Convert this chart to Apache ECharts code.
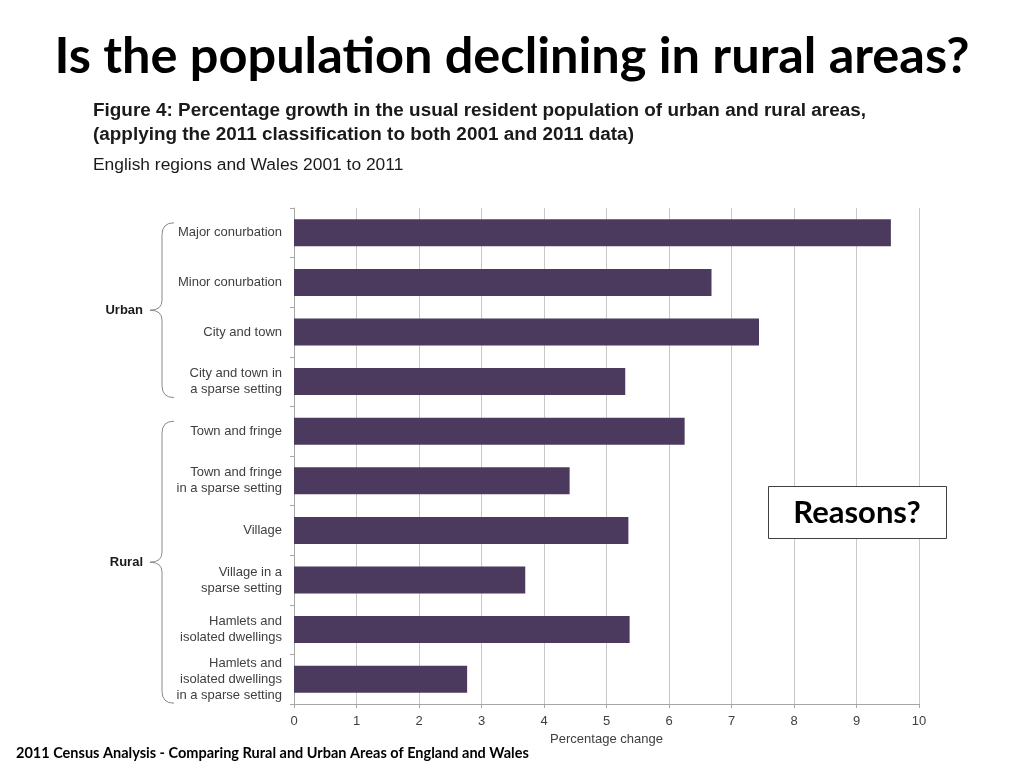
<!DOCTYPE html>
<html><head><meta charset="utf-8">
<script src="https://cdn.jsdelivr.net/npm/echarts@6/dist/echarts.min.js"></script>
<style>html,body{margin:0;padding:0;background:#fff}#c{width:1024px;height:768px}</style>
</head><body><div id="c"></div>
<script>
const categories = [
  'Major conurbation',
  'Minor conurbation',
  'City and town',
  'City and town in\na sparse setting',
  'Town and fringe',
  'Town and fringe\nin a sparse setting',
  'Village',
  'Village in a\nsparse setting',
  'Hamlets and\nisolated dwellings',
  'Hamlets and\nisolated dwellings\nin a sparse setting'
];
const growth = [9.55, 6.68, 7.44, 5.30, 6.25, 4.41, 5.35, 3.70, 5.37, 2.77];
const xTicks = [0,1,2,3,4,5,6,7,8,9,10];
const groups = [
  {name: 'Urban', from: 0, to: 3},
  {name: 'Rural', from: 4, to: 9}
];

const chart = echarts.init(document.getElementById('c'), null, {renderer: 'canvas'});
const option = {
  backgroundColor: '#ffffff',
  animation: false,
  grid: {left: 294, right: 105, top: 208, bottom: 64, containLabel: false},
  xAxis: {
    type: 'value', min: xTicks[0], max: xTicks[xTicks.length-1], interval: 1,
    name: 'Percentage change', nameLocation: 'middle', nameGap: 27,
    nameTextStyle: {fontFamily: 'Liberation Sans', fontSize: 13, color: '#404040'},
    axisLine: {show: true, lineStyle: {color: '#a6a6a6'}},
    axisTick: {show: true, length: 4, lineStyle: {color: '#a6a6a6'}},
    axisLabel: {fontFamily: 'Liberation Sans', fontSize: 13, color: '#404040', margin: 11},
    splitLine: {show: true, lineStyle: {color: '#c8c8c8', width: 1}}
  },
  yAxis: {
    type: 'category', data: categories, inverse: true,
    axisLine: {show: true, lineStyle: {color: '#a6a6a6'}},
    axisTick: {show: true, length: 4, lineStyle: {color: '#a6a6a6'}},
    axisLabel: {fontFamily: 'Liberation Sans', fontSize: 13, color: '#404040', margin: 12, lineHeight: 16, align: 'right', padding: [3, 0, 0, 0]}
  },
  series: [{
    type: 'bar', data: growth, barWidth: 27,
    itemStyle: {color: '#4b3a5e'}
  }]
};
chart.setOption(option);

const g = [];
g.push({type: 'text', x: 512, y: 57, style: {
  text: 'Is the population declining in rural areas?', font: 'bold 50.5px Lato', fill: '#000', align: 'center', verticalAlign: 'middle'}});
g.push({type: 'text', x: 93, y: 99, scaleX: 1.05, style: {
  text: 'Figure 4: Percentage growth in the usual resident population of urban and rural areas,\n(applying the 2011 classification to both 2001 and 2011 data)',
  font: 'bold 18px "Liberation Sans"', fill: '#1a1a1a', lineHeight: 24, verticalAlign: 'top'}});
g.push({type: 'text', x: 93, y: 165, style: {
  text: 'English regions and Wales 2001 to 2011', font: '17.4px "Liberation Sans"', fill: '#1a1a1a', verticalAlign: 'middle'}});
g.push({type: 'text', x: 16, y: 753, style: {
  text: '2011 Census Analysis - Comparing Rural and Urban Areas of England and Wales', font: 'bold 14.5px Lato', fill: '#000', verticalAlign: 'middle'}});
g.push({type: 'rect', shape: {x: 768.5, y: 486.5, width: 178, height: 52}, style: {fill: '#fff', stroke: '#404040', lineWidth: 1}, z: 10});
g.push({type: 'text', x: 857, y: 513, z: 11, style: {text: 'Reasons?', font: 'bold 31px Lato', fill: '#000', align: 'center', verticalAlign: 'middle'}});

const bs = {stroke: '#8a8a8a', lineWidth: 1, fill: null};
groups.forEach(gr => {
  const nLines = categories[gr.to].split('\n').length;
  const y0 = chart.convertToPixel({yAxisIndex: 0}, gr.from) - 10;
  const y1 = chart.convertToPixel({yAxisIndex: 0}, gr.to) + 8 * nLines;
  const ym = (y0 + y1) / 2;
  const xr = 174, xm = 162, xp = 150;
  g.push({type: 'bezierCurve', shape: {x1: xr, y1: y0, cpx1: xm, cpy1: y0, x2: xm, y2: y0 + 12}, style: bs});
  g.push({type: 'line', shape: {x1: xm, y1: y0 + 12, x2: xm, y2: ym - 10}, style: bs});
  g.push({type: 'bezierCurve', shape: {x1: xm, y1: ym - 10, cpx1: xm, cpy1: ym, x2: xp, y2: ym}, style: bs});
  g.push({type: 'bezierCurve', shape: {x1: xp, y1: ym, cpx1: xm, cpy1: ym, x2: xm, y2: ym + 10}, style: bs});
  g.push({type: 'line', shape: {x1: xm, y1: ym + 10, x2: xm, y2: y1 - 12}, style: bs});
  g.push({type: 'bezierCurve', shape: {x1: xm, y1: y1 - 12, cpx1: xm, cpy1: y1, x2: xr, y2: y1}, style: bs});
  g.push({type: 'text', x: 143, y: ym, style: {text: gr.name, font: 'bold 13px "Liberation Sans"', fill: '#1a1a1a', align: 'right', verticalAlign: 'middle'}});
});
chart.setOption({graphic: g});
</script></body></html>
